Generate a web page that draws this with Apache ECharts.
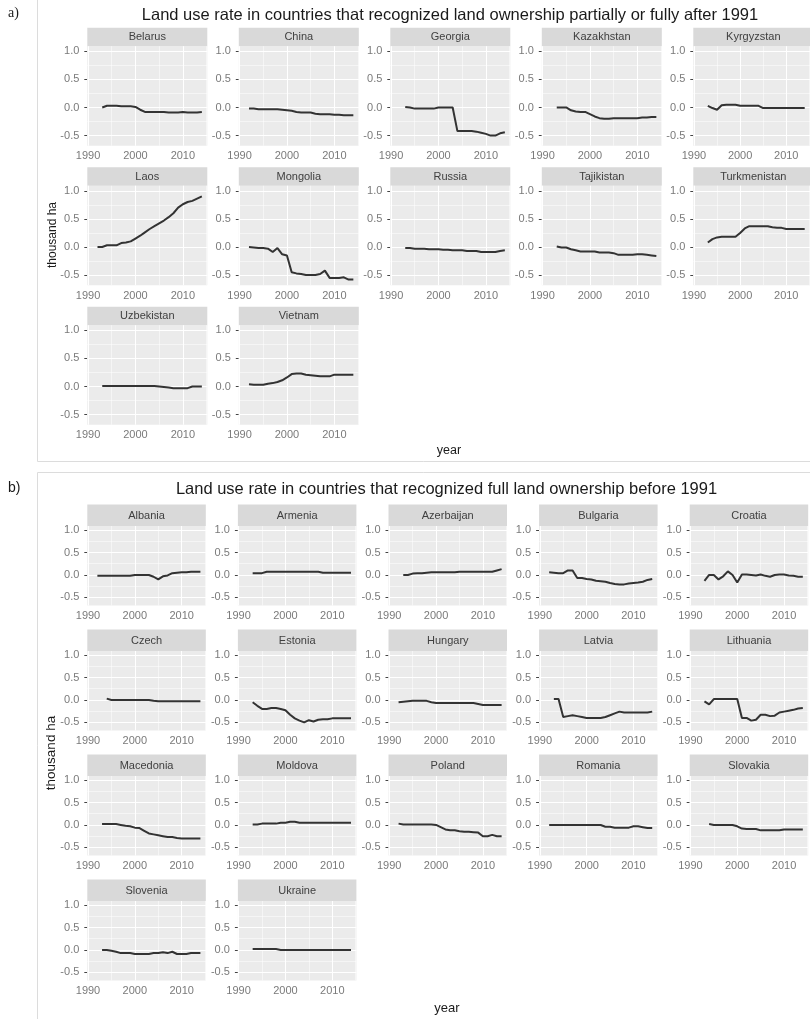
<!DOCTYPE html>
<html>
<head>
<meta charset="utf-8">
<script src="https://cdn.jsdelivr.net/npm/echarts@6/dist/echarts.min.js"></script>
<style>
  html, body { margin: 0; padding: 0; background: #ffffff; }
  #chart { width: 810px; height: 1019px; }
</style>
</head>
<body>
<div id="chart"></div>
<script>
// ---- data -------------------------------------------------------------
const years = [1992, 1993, 1994, 1995, 1996, 1997, 1998, 1999, 2000, 2001, 2002, 2003,
               2004, 2005, 2006, 2007, 2008, 2009, 2010, 2011, 2012, 2013, 2014];

const xMajor = [1990, 2000, 2010];
const xMinor = [1995, 2005, 2015];
const yMajor = [-0.5, 0, 0.5, 1.0];
const yMinor = [-0.25, 0.25, 0.75];

// a) land ownership recognised partially or fully after 1991 (thousand ha)
const countriesA = ['Belarus', 'China', 'Georgia', 'Kazakhstan', 'Kyrgyzstan',
                    'Laos', 'Mongolia', 'Russia', 'Tajikistan', 'Turkmenistan',
                    'Uzbekistan', 'Vietnam'];
const belarus      = [null, 0.00, 0.03, 0.03, 0.03, 0.02, 0.02, 0.02, 0.01, -0.04, -0.08, -0.08, -0.08, -0.08, -0.08, -0.09, -0.09, -0.09, -0.08, -0.09, -0.09, -0.09, -0.08];
const china        = [-0.02, -0.02, -0.03, -0.03, -0.03, -0.03, -0.03, -0.04, -0.05, -0.06, -0.08, -0.09, -0.09, -0.09, -0.11, -0.12, -0.12, -0.12, -0.13, -0.13, -0.14, -0.14, -0.14];
const georgia      = [null, 0.01, 0.00, -0.02, -0.02, -0.02, -0.02, -0.02, 0.00, 0.00, 0.00, 0.00, -0.42, -0.42, -0.42, -0.42, -0.43, -0.45, -0.47, -0.50, -0.50, -0.46, -0.44];
const kazakhstan   = [null, 0.00, 0.00, 0.00, -0.05, -0.07, -0.08, -0.08, -0.12, -0.16, -0.19, -0.20, -0.20, -0.19, -0.19, -0.19, -0.19, -0.19, -0.19, -0.18, -0.18, -0.17, -0.17];
const kyrgyzstan   = [null, 0.03, -0.01, -0.04, 0.04, 0.05, 0.05, 0.05, 0.03, 0.03, 0.03, 0.03, 0.03, -0.01, -0.01, -0.01, -0.01, -0.01, -0.01, -0.01, -0.01, -0.01, -0.01];
const laos         = [0.00, 0.00, 0.03, 0.03, 0.03, 0.07, 0.08, 0.10, 0.15, 0.20, 0.26, 0.32, 0.37, 0.42, 0.47, 0.53, 0.60, 0.70, 0.76, 0.80, 0.82, 0.86, 0.90];
const mongolia     = [0.00, -0.01, -0.02, -0.02, -0.03, -0.09, -0.02, -0.13, -0.15, -0.45, -0.47, -0.48, -0.50, -0.50, -0.50, -0.48, -0.42, -0.55, -0.55, -0.55, -0.54, -0.58, -0.58];
const russia       = [null, -0.02, -0.02, -0.03, -0.03, -0.03, -0.04, -0.04, -0.04, -0.05, -0.05, -0.06, -0.06, -0.06, -0.07, -0.07, -0.07, -0.09, -0.09, -0.09, -0.09, -0.07, -0.06];
const tajikistan   = [null, 0.01, -0.01, -0.01, -0.04, -0.06, -0.08, -0.08, -0.08, -0.08, -0.10, -0.10, -0.10, -0.11, -0.14, -0.14, -0.14, -0.14, -0.13, -0.13, -0.14, -0.15, -0.16];
const turkmenistan = [null, 0.08, 0.14, 0.17, 0.18, 0.18, 0.18, 0.18, 0.25, 0.33, 0.37, 0.37, 0.37, 0.37, 0.37, 0.35, 0.34, 0.34, 0.32, 0.32, 0.32, 0.32, 0.32];
const uzbekistan   = [null, 0.01, 0.01, 0.01, 0.01, 0.01, 0.01, 0.01, 0.01, 0.01, 0.01, 0.01, 0.01, 0.00, -0.01, -0.02, -0.03, -0.03, -0.03, -0.03, 0.00, 0.00, 0.00];
const vietnam      = [0.04, 0.03, 0.03, 0.03, 0.05, 0.06, 0.08, 0.11, 0.16, 0.22, 0.23, 0.23, 0.21, 0.20, 0.19, 0.18, 0.18, 0.18, 0.21, 0.21, 0.21, 0.21, 0.21];
const valuesA = [belarus, china, georgia, kazakhstan, kyrgyzstan, laos, mongolia,
                 russia, tajikistan, turkmenistan, uzbekistan, vietnam];

// b) full land ownership recognised before 1991 (thousand ha)
const countriesB = ['Albania', 'Armenia', 'Azerbaijan', 'Bulgaria', 'Croatia',
                    'Czech', 'Estonia', 'Hungary', 'Latvia', 'Lithuania',
                    'Macedonia', 'Moldova', 'Poland', 'Romania', 'Slovakia',
                    'Slovenia', 'Ukraine'];
const albania    = [-0.02, -0.02, -0.02, -0.02, -0.02, -0.02, -0.02, -0.02, 0.00, 0.00, 0.00, 0.00, -0.04, -0.10, -0.03, -0.01, 0.04, 0.05, 0.06, 0.06, 0.07, 0.07, 0.07];
const armenia    = [null, 0.04, 0.04, 0.04, 0.07, 0.07, 0.07, 0.07, 0.07, 0.07, 0.07, 0.07, 0.07, 0.07, 0.07, 0.07, 0.05, 0.05, 0.05, 0.05, 0.05, 0.05, 0.05];
const azerbaijan = [null, 0.00, 0.00, 0.03, 0.04, 0.04, 0.05, 0.06, 0.06, 0.06, 0.06, 0.06, 0.06, 0.07, 0.07, 0.07, 0.07, 0.07, 0.07, 0.07, 0.07, 0.10, 0.13];
const bulgaria   = [0.06, 0.05, 0.04, 0.04, 0.10, 0.10, -0.07, -0.07, -0.09, -0.10, -0.13, -0.14, -0.15, -0.18, -0.20, -0.21, -0.21, -0.19, -0.18, -0.17, -0.15, -0.11, -0.09];
const croatia    = [null, -0.13, 0.00, 0.00, -0.10, -0.03, 0.08, 0.00, -0.17, 0.01, 0.01, 0.00, -0.01, 0.01, -0.02, -0.04, 0.00, 0.01, 0.01, -0.01, -0.02, -0.04, -0.04];
const czech      = [null, null, 0.03, 0.00, 0.00, 0.00, 0.00, 0.00, 0.00, 0.00, 0.00, 0.00, -0.02, -0.03, -0.03, -0.03, -0.03, -0.03, -0.03, -0.03, -0.03, -0.03, -0.03];
const estonia    = [null, -0.05, -0.13, -0.20, -0.20, -0.18, -0.18, -0.20, -0.23, -0.33, -0.41, -0.46, -0.50, -0.45, -0.48, -0.44, -0.43, -0.43, -0.41, -0.41, -0.41, -0.41, -0.41];
const hungary    = [-0.05, -0.04, -0.03, -0.02, -0.02, -0.02, -0.02, -0.05, -0.07, -0.07, -0.07, -0.07, -0.07, -0.07, -0.07, -0.07, -0.07, -0.09, -0.11, -0.11, -0.11, -0.11, -0.11];
const latvia     = [null, 0.02, 0.02, -0.38, -0.36, -0.34, -0.36, -0.38, -0.40, -0.40, -0.40, -0.40, -0.38, -0.34, -0.30, -0.26, -0.28, -0.28, -0.28, -0.28, -0.28, -0.28, -0.26];
const lithuania  = [null, -0.03, -0.10, 0.02, 0.02, 0.02, 0.02, 0.02, 0.02, -0.40, -0.40, -0.46, -0.44, -0.33, -0.33, -0.36, -0.35, -0.28, -0.26, -0.24, -0.22, -0.19, -0.18];
const macedonia  = [null, 0.02, 0.02, 0.02, 0.02, 0.00, -0.02, -0.03, -0.06, -0.07, -0.13, -0.19, -0.21, -0.23, -0.25, -0.27, -0.27, -0.29, -0.30, -0.30, -0.30, -0.30, -0.30];
const moldova    = [null, 0.01, 0.01, 0.03, 0.03, 0.03, 0.03, 0.05, 0.05, 0.07, 0.07, 0.05, 0.05, 0.05, 0.05, 0.05, 0.05, 0.05, 0.05, 0.05, 0.05, 0.05, 0.05];
const poland     = [0.03, 0.01, 0.01, 0.01, 0.01, 0.01, 0.01, 0.01, 0.00, -0.05, -0.10, -0.12, -0.12, -0.14, -0.15, -0.15, -0.16, -0.17, -0.25, -0.25, -0.22, -0.25, -0.25];
const romania    = [0.00, 0.00, 0.00, 0.00, 0.00, 0.00, 0.00, 0.00, 0.00, 0.00, 0.00, 0.00, -0.04, -0.04, -0.06, -0.06, -0.06, -0.06, -0.03, -0.03, -0.05, -0.07, -0.07];
const slovakia   = [null, null, 0.02, 0.00, 0.00, 0.00, 0.00, 0.00, -0.03, -0.08, -0.09, -0.09, -0.09, -0.12, -0.12, -0.12, -0.12, -0.12, -0.10, -0.10, -0.10, -0.10, -0.10];
const slovenia   = [null, 0.00, 0.00, -0.02, -0.04, -0.07, -0.07, -0.07, -0.09, -0.09, -0.09, -0.09, -0.07, -0.07, -0.05, -0.07, -0.04, -0.09, -0.09, -0.09, -0.07, -0.07, -0.07];
const ukraine    = [null, 0.02, 0.02, 0.02, 0.02, 0.02, 0.02, 0.00, 0.00, 0.00, 0.00, 0.00, 0.00, 0.00, 0.00, 0.00, 0.00, 0.00, 0.00, 0.00, 0.00, 0.00, 0.00];
const valuesB = [albania, armenia, azerbaijan, bulgaria, croatia, czech, estonia,
                 hungary, latvia, lithuania, macedonia, moldova, poland, romania,
                 slovakia, slovenia, ukraine];

// ---- layout -------------------------------------------------------------
const FONT = '"Liberation Sans", Arial, sans-serif';
const X_RANGE = [1989.85, 2015.15];
const Y_RANGE = [-0.68, 1.09];

const blocks = [
  { names: countriesA, values: valuesA, x0: 87.3, dx: 151.5, w: 120,
    top0: 27.7, dy: 139.5, stripH: 18.5, h: 99.5 },
  { names: countriesB, values: valuesB, x0: 87.3, dx: 150.6, w: 118.5,
    top0: 504.5, dy: 125, stripH: 21.5, h: 79.5 }
];

const grids = [], xAxes = [], yAxes = [], series = [], graphics = [];

function gridLines() {
  const d = [];
  xMajor.forEach(v => d.push({ xAxis: v, lineStyle: { width: 1.1 } }));
  xMinor.forEach(v => d.push({ xAxis: v, lineStyle: { width: 0.5 } }));
  yMajor.forEach(v => d.push({ yAxis: v, lineStyle: { width: 1.1 } }));
  yMinor.forEach(v => d.push({ yAxis: v, lineStyle: { width: 0.5 } }));
  return d;
}

blocks.forEach(b => {
  b.names.forEach((name, k) => {
    const col = k % 5, row = Math.floor(k / 5);
    const left = b.x0 + col * b.dx;
    const stripTop = b.top0 + row * b.dy;
    const top = stripTop + b.stripH;
    const gi = grids.length;

    grids.push({ left: left, top: top, width: b.w, height: b.h, show: true,
                 backgroundColor: '#EBEBEB', borderWidth: 0, containLabel: false });

    xAxes.push({
      type: 'value', gridIndex: gi, min: X_RANGE[0], max: X_RANGE[1],
      axisLine: { show: false },
      splitLine: { show: false },
      axisTick: { show: true, length: 3, customValues: xMajor, lineStyle: { color: '#444', width: 1 } },
      axisLabel: { customValues: xMajor, color: '#7a7a7a', fontSize: 11, fontFamily: FONT, margin: 5,
                   formatter: v => String(v) }
    });
    yAxes.push({
      type: 'value', gridIndex: gi, min: Y_RANGE[0], max: Y_RANGE[1],
      axisLine: { show: false },
      splitLine: { show: false },
      axisTick: { show: true, length: 3, customValues: yMajor, lineStyle: { color: '#444', width: 1 } },
      axisLabel: { customValues: yMajor, color: '#7a7a7a', fontSize: 11, fontFamily: FONT, margin: 8,
                   formatter: v => v.toFixed(1) }
    });

    const vals = b.values[k];
    const pts = [];
    years.forEach((yr, i) => { if (vals[i] !== null) pts.push([yr, vals[i]]); });

    series.push({
      type: 'line', name: name, xAxisIndex: gi, yAxisIndex: gi, data: pts,
      showSymbol: false, symbol: 'none', silent: true, animation: false, z: 3,
      lineStyle: { color: '#333333', width: 2 },
      markLine: {
        silent: true, symbol: 'none', z: 1, animation: false,
        label: { show: false },
        lineStyle: { type: 'solid', color: '#ffffff' },
        data: gridLines()
      }
    });

    // facet strip
    graphics.push({
      type: 'rect', silent: true,
      shape: { x: left, y: stripTop, width: b.w, height: b.stripH },
      style: { fill: '#D9D9D9' }
    });
    graphics.push({
      type: 'text', silent: true, x: left + b.w / 2, y: stripTop + b.stripH / 2 + 0.5,
      style: { text: name, fill: '#404040', font: '11px ' + FONT,
               align: 'center', verticalAlign: 'middle',
               textAlign: 'center', textVerticalAlign: 'middle' }
    });
  });
});

function label(txt, x, y, font, opts) {
  return Object.assign({
    type: 'text', silent: true, x: x, y: y,
    style: { text: txt, fill: '#1a1a1a', font: font,
             align: 'center', verticalAlign: 'middle',
             textAlign: 'center', textVerticalAlign: 'middle' }
  }, opts || {});
}

// frames around the two figure parts
graphics.push({ type: 'line', silent: true, shape: { x1: 37.5, y1: 0, x2: 37.5, y2: 461.5 },
                style: { stroke: '#dcdcdc', lineWidth: 1 } });
graphics.push({ type: 'line', silent: true, shape: { x1: 37.5, y1: 461.5, x2: 810, y2: 461.5 },
                style: { stroke: '#dcdcdc', lineWidth: 1 } });
graphics.push({ type: 'line', silent: true, shape: { x1: 37.5, y1: 472.5, x2: 810, y2: 472.5 },
                style: { stroke: '#dcdcdc', lineWidth: 1 } });
graphics.push({ type: 'line', silent: true, shape: { x1: 37.5, y1: 472.5, x2: 37.5, y2: 1019 },
                style: { stroke: '#dcdcdc', lineWidth: 1 } });

// titles and axis names
graphics.push(label('Land use rate in countries that recognized land ownership partially or fully after 1991',
                    450, 15.5, '16.5px ' + FONT));
graphics.push(label('Land use rate in countries that recognized full land ownership before 1991',
                    446.5, 489, '16.5px ' + FONT));
graphics.push(label('a)', 8, 13, '14px "Liberation Serif", "Times New Roman", serif',
                    { style: { text: 'a)', fill: '#1a1a1a', font: '14px "Liberation Serif", serif',
                               align: 'left', verticalAlign: 'middle', textAlign: 'left', textVerticalAlign: 'middle' } }));
graphics.push(label('b)', 8, 488, '14px ' + FONT,
                    { style: { text: 'b)', fill: '#1a1a1a', font: '14px ' + FONT,
                               align: 'left', verticalAlign: 'middle', textAlign: 'left', textVerticalAlign: 'middle' } }));
graphics.push(label('thousand ha', 53, 235, '12px ' + FONT, { rotation: Math.PI / 2 }));
graphics.push(label('thousand ha', 51, 753, '13.5px ' + FONT, { rotation: Math.PI / 2 }));
graphics.push(label('year', 449, 451, '12.5px ' + FONT));
graphics.push(label('year', 447, 1008, '13px ' + FONT));

const chart = echarts.init(document.getElementById('chart'), null, { renderer: 'canvas' });
chart.setOption({
  backgroundColor: '#ffffff',
  animation: false,
  grid: grids,
  xAxis: xAxes,
  yAxis: yAxes,
  series: series,
  graphic: { elements: graphics }
});
</script>
</body>
</html>
